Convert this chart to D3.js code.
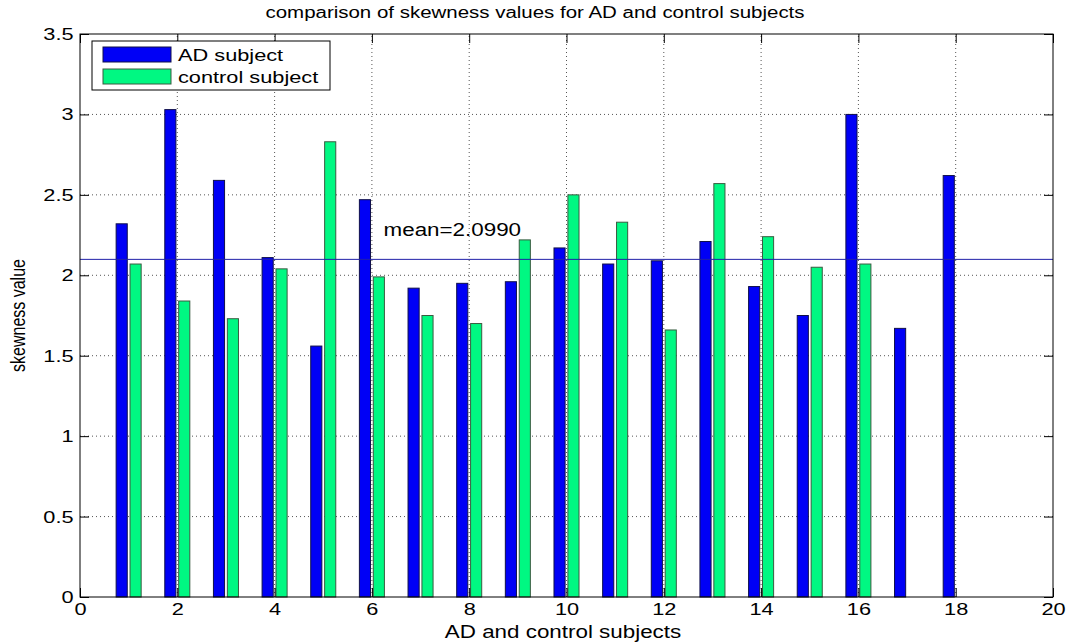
<!DOCTYPE html>
<html>
<head>
<meta charset="utf-8">
<script src="https://cdn.jsdelivr.net/npm/d3@7"></script>
<style>
  html, body { margin: 0; padding: 0; background: #fff; }
  svg { display: block; }
  text { font-family: "Liberation Sans", Arial, sans-serif; fill: #000; }
</style>
</head>
<body>
<script>
// Skewness per subject (subjects 17 and 18 have no control value)
const subjects = d3.range(1, 19);
const adValues = [2.32, 3.03, 2.59, 2.11, 1.56, 2.47, 1.92, 1.95, 1.96, 2.17, 2.07, 2.09, 2.21, 1.93, 1.75, 3.00, 1.67, 2.62];
const controlValues = [2.07, 1.84, 1.73, 2.04, 2.83, 1.99, 1.75, 1.70, 2.22, 2.50, 2.33, 1.66, 2.57, 2.24, 2.05, 2.07, null, null];
const meanValue = 2.0990;
const xTicks = [0, 2, 4, 6, 8, 10, 12, 14, 16, 18, 20];
const yTicks = [0, 0.5, 1, 1.5, 2, 2.5, 3, 3.5];
const seriesNames = ["AD subject", "control subject"];
const seriesColors = ["#0000f6", "#00f882"];

const W = 1075, H = 642;
const m = { left: 80, right: 22, top: 34, bottom: 45 };
const SX = 1.28; // horizontal glyph stretch used for all text

const svg = d3.select("body").append("svg").attr("width", W).attr("height", H);

const x = d3.scaleLinear().domain([0, 20]).range([m.left, W - m.right]);
const y = d3.scaleLinear().domain([0, 3.5]).range([H - m.bottom, m.top]);

// Place a horizontally stretched text at (px, py)
function label(parent, px, py, str, size, anchor) {
  return parent.append("text")
    .attr("transform", `translate(${px},${py}) scale(${SX},1)`)
    .attr("text-anchor", anchor || "start")
    .attr("font-size", size)
    .text(str);
}

// Grid (dotted)
const grid = svg.append("g");
grid.selectAll(".gx").data(xTicks.slice(1, -1)).join("line")
  .attr("x1", d => x(d)).attr("x2", d => x(d))
  .attr("y1", y(0)).attr("y2", y(3.5))
  .attr("stroke", "#555").attr("stroke-width", 1).attr("stroke-dasharray", "1,3");
grid.selectAll(".gy").data(yTicks.slice(1, -1)).join("line")
  .attr("x1", x(0)).attr("x2", x(20))
  .attr("y1", d => y(d)).attr("y2", d => y(d))
  .attr("stroke", "#555").attr("stroke-width", 1).attr("stroke-dasharray", "1,3");

// Grouped bars: two bars per subject
const barW = 0.2286, offset = 0.1429;
const series = [adValues, controlValues];
series.forEach((vals, si) => {
  const data = subjects.map((s, i) => ({ s, v: vals[i] })).filter(d => d.v != null);
  svg.append("g").selectAll("rect").data(data).join("rect")
    .attr("x", d => x(d.s + (si === 0 ? -offset : offset) - barW / 2))
    .attr("width", d => x(barW) - x(0))
    .attr("y", d => y(d.v))
    .attr("height", d => y(0) - y(d.v))
    .attr("fill", seriesColors[si])
    .attr("stroke", si === 0 ? "#10104a" : "#3a5a40")
    .attr("stroke-width", 1);
});

// Mean line
svg.append("line")
  .attr("x1", x(0)).attr("x2", x(20))
  .attr("y1", y(meanValue)).attr("y2", y(meanValue))
  .attr("stroke", "#2020a8").attr("stroke-width", 1);
label(svg, x(6.24), y(2.28) + 6, "mean=" + meanValue.toFixed(4), 17.5);

// Axes box with inward ticks on all sides
const tickLen = 9;
svg.append("rect")
  .attr("x", x(0)).attr("y", y(3.5))
  .attr("width", x(20) - x(0)).attr("height", y(0) - y(3.5))
  .attr("fill", "none").attr("stroke", "#000").attr("stroke-width", 1);

const xAxisB = d3.axisBottom(x).tickValues(xTicks).tickSizeInner(-tickLen).tickSizeOuter(0).tickPadding(6).tickFormat(d3.format("d"));
const xAxisT = d3.axisTop(x).tickValues(xTicks).tickSizeInner(-tickLen).tickSizeOuter(0).tickFormat("");
const yAxisL = d3.axisLeft(y).tickValues(yTicks).tickSizeInner(-tickLen).tickSizeOuter(0).tickPadding(5).tickFormat(d => d3.format("")(d));
const yAxisR = d3.axisRight(y).tickValues(yTicks).tickSizeInner(-tickLen).tickSizeOuter(0).tickFormat("");

function styleAxis(g) {
  g.select(".domain").remove();
  g.selectAll(".tick line").attr("stroke", "#000");
  g.selectAll(".tick text")
    .attr("font-size", 17)
    .attr("font-family", "Liberation Sans, Arial, sans-serif")
    .attr("fill", "#000")
    .attr("transform", `scale(${SX},1)`);
}
svg.append("g").attr("transform", `translate(0,${y(0)})`).call(xAxisB).call(styleAxis);
svg.append("g").attr("transform", `translate(0,${y(3.5)})`).call(xAxisT).call(styleAxis);
svg.append("g").attr("transform", `translate(${x(0)},0)`).call(yAxisL).call(styleAxis);
svg.append("g").attr("transform", `translate(${x(20)},0)`).call(yAxisR).call(styleAxis);

// Title and axis labels
label(svg, 535, 18, "comparison of skewness values for AD and control subjects", 16, "middle");
label(svg, 563, 638, "AD and control subjects", 17.5, "middle");
svg.append("text")
  .attr("transform", `translate(25,${(y(0) + y(3.5)) / 2}) scale(${SX},1) rotate(-90)`)
  .attr("text-anchor", "middle")
  .attr("font-size", 16)
  .text("skewness value");

// Legend
const lg = svg.append("g").attr("transform", "translate(92,41)");
lg.append("rect").attr("width", 238).attr("height", 49)
  .attr("fill", "#fff").attr("stroke", "#000").attr("stroke-width", 1);
seriesNames.forEach((name, i) => {
  lg.append("rect")
    .attr("x", 11).attr("y", 6 + i * 22)
    .attr("width", 68).attr("height", 15)
    .attr("fill", seriesColors[i])
    .attr("stroke", i === 0 ? "#10104a" : "#3a5a40");
  label(lg, 86, 20 + i * 22, name, 17);
});
</script>
</body>
</html>
